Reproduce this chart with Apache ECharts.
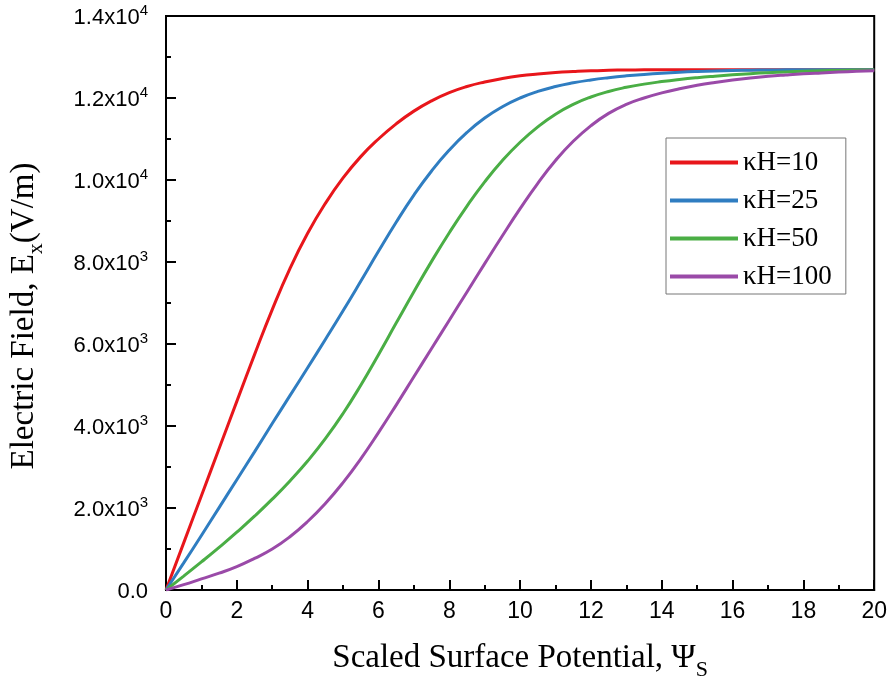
<!DOCTYPE html>
<html>
<head>
<meta charset="utf-8">
<script src="https://cdn.jsdelivr.net/npm/echarts@6/dist/echarts.min.js"></script>
<style>
html,body{margin:0;padding:0;background:#fff;}
#chart{width:890px;height:687px;}
</style>
</head>
<body>
<div id="chart"></div>
<script>
// Scaled surface potential values (x)
const psiS = [0,0.5,1,1.5,2,2.5,3,3.5,4,4.5,5,5.5,6,6.5,7,7.5,8,8.5,9,9.5,10,10.5,11,11.5,12,12.5,13,13.5,14,14.5,15,15.5,16,16.5,17,17.5,18,18.5,19,19.5,20];

const seriesNames = ['κH=10','κH=25','κH=50','κH=100'];

const ex_kH10 = [0,1150,2300,3450,4600,5740,6840,7840,8700,9430,10050,10570,11000,11370,11680,11930,12130,12280,12390,12475,12540,12585,12620,12645,12665,12676,12683,12687,12689,12690,12690,12690,12690,12690,12690,12690,12690,12690,12690,12690,12690];
const ex_kH25 = [0,660,1330,2010,2690,3370,4060,4740,5420,6110,6810,7530,8260,8970,9630,10220,10730,11160,11510,11785,12000,12160,12280,12370,12440,12495,12540,12576,12606,12630,12648,12661,12671,12678,12683,12687,12690,12690,12690,12690,12690];
const ex_kH50 = [0,340,685,1040,1410,1800,2215,2660,3145,3690,4305,4995,5740,6510,7275,8015,8715,9365,9955,10475,10920,11295,11605,11845,12025,12160,12260,12338,12400,12452,12496,12533,12566,12594,12618,12637,12652,12664,12673,12680,12685];
const ex_kH100 = [0,130,270,410,570,770,1000,1300,1670,2110,2620,3200,3840,4510,5200,5890,6580,7270,7960,8640,9300,9920,10475,10945,11325,11625,11845,12000,12125,12225,12310,12380,12440,12490,12530,12562,12590,12612,12632,12650,12665];

const yTickMantissa = ['0.0','2.0','4.0','6.0','8.0','1.0','1.2','1.4'];
const yTickExponent = ['','3','3','3','3','4','4','4'];

const colors = ['#e8161b','#2f7dc1','#4aae45','#9a4aa8'];
const allData = [ex_kH10, ex_kH25, ex_kH50, ex_kH100];

const chart = echarts.init(document.getElementById('chart'), null, {renderer:'canvas'});

const series = seriesNames.map((name, k) => ({
  name: name,
  type: 'line',
  smooth: 0.5,
  symbol: 'none',
  lineStyle: {width: 3, color: colors[k]},
  itemStyle: {color: colors[k]},
  data: psiS.map((x, i) => [x, allData[k][i]])
}));

const titleRich = {
  m: {fontFamily: 'Liberation Serif', fontSize: 33, color: '#000', lineHeight: 38, verticalAlign: 'top'},
  s: {fontFamily: 'Liberation Serif', fontSize: 22, color: '#000', lineHeight: 22, verticalAlign: 'top', padding: [17, 0, 0, 0]}
};

chart.setOption({
  animation: false,
  backgroundColor: '#fff',
  grid: {left: 164, right: 15, top: 16, bottom: 97, show: true, borderColor: '#000', borderWidth: 2, containLabel: false},
  legend: {
    orient: 'vertical',
    left: 666, top: 138,
    padding: [11, 14, 4, 4],
    itemGap: 11,
    itemWidth: 68, itemHeight: 4,
    icon: 'rect',
    borderColor: '#777', borderWidth: 1,
    backgroundColor: '#fff',
    textStyle: {fontFamily: 'Liberation Serif', fontSize: 27, color: '#000', lineHeight: 26},
    data: seriesNames
  },
  xAxis: {
    type: 'value', min: 0, max: 20, interval: 2,
    name: '{m|Scaled Surface Potential, Ψ}{s|S}',
    nameLocation: 'middle', nameGap: 52,
    nameTextStyle: {rich: titleRich},
    axisLine: {show: true, lineStyle: {color: '#000', width: 2}},
    axisTick: {show: true, inside: true, length: 10, lineStyle: {color: '#000', width: 2}},
    minorTick: {show: true, splitNumber: 2, length: 5, lineStyle: {color: '#000', width: 2}},
    splitLine: {show: false},
    axisLabel: {fontFamily: 'Liberation Sans', fontSize: 23, color: '#000', margin: 10}
  },
  yAxis: {
    type: 'value', min: 0, max: 14000, interval: 2000,
    name: '{m|Electric Field, E}{s|x}{m|(V/m)}',
    nameLocation: 'middle', nameGap: 120, nameRotate: 90,
    nameTextStyle: {rich: titleRich, padding: [0, 26, 0, 0]},
    axisLine: {show: true, lineStyle: {color: '#000', width: 2}},
    axisTick: {show: true, inside: true, length: 10, lineStyle: {color: '#000', width: 2}},
    minorTick: {show: true, splitNumber: 2, length: 5, lineStyle: {color: '#000', width: 2}},
    splitLine: {show: false},
    axisLabel: {
      margin: 18,
      formatter: function (v) {
        const i = Math.round(v / 2000);
        if (!yTickExponent[i]) return '{m|' + yTickMantissa[i] + '}';
        return '{m|' + yTickMantissa[i] + 'x10}{s|' + yTickExponent[i] + '}';
      },
      rich: {
        m: {fontFamily: 'Liberation Sans', fontSize: 22, color: '#000', lineHeight: 25, verticalAlign: 'bottom'},
        s: {fontFamily: 'Liberation Sans', fontSize: 15, color: '#000', lineHeight: 15, verticalAlign: 'top'}
      }
    }
  },
  series: series
});
</script>
</body>
</html>
